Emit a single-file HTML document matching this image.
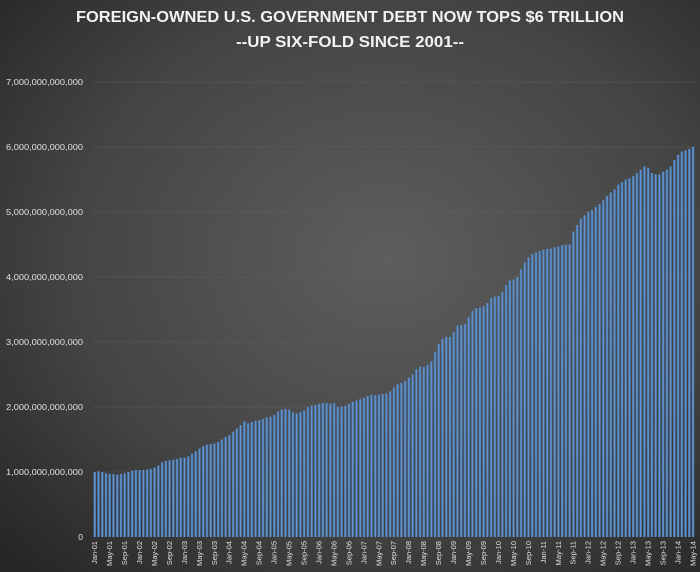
<!DOCTYPE html>
<html><head><meta charset="utf-8"><style>
html,body{margin:0;padding:0;}
body{width:700px;height:572px;overflow:hidden;background:#333;}
</style></head><body>
<svg id="chart" width="700" height="572" xmlns="http://www.w3.org/2000/svg" style="display:block">
<defs>
<radialGradient id="bg" cx="0.55" cy="0.45" r="0.75">
<stop offset="0" stop-color="#5e5e5e"/><stop offset="0.6" stop-color="#444"/><stop offset="1" stop-color="#262626"/>
</radialGradient>
<linearGradient id="barg" x1="0" x2="1" y1="0" y2="0">
<stop offset="0" stop-color="#3a679c"/><stop offset="0.5" stop-color="#6f9ed3"/><stop offset="1" stop-color="#365f92"/>
</linearGradient>
</defs>
<rect width="700" height="572" fill="url(#bg)"/>
<text x="76" y="22" textLength="548" lengthAdjust="spacingAndGlyphs" fill="#f2f2f2" font-family="Liberation Sans, sans-serif" font-weight="bold" font-size="16">FOREIGN-OWNED U.S. GOVERNMENT DEBT NOW TOPS $6 TRILLION</text>
<text x="236" y="47" textLength="228" lengthAdjust="spacingAndGlyphs" fill="#f2f2f2" font-family="Liberation Sans, sans-serif" font-weight="bold" font-size="16">--UP SIX-FOLD SINCE 2001--</text>
<g id="grid"></g><g id="bars"></g><g id="labels"></g>
</svg>
<script>
const yTicks=[0,1,2,3,4,5,6,7];
const yTickLabels=["0","1,000,000,000,000","2,000,000,000,000","3,000,000,000,000","4,000,000,000,000","5,000,000,000,000","6,000,000,000,000","7,000,000,000,000"];
const monthNames=["Jan","Feb","Mar","Apr","May","Jun","Jul","Aug","Sep","Oct","Nov","Dec"];
const startYear=2001;
const values=[
1.0,1.01,1.0,0.98,0.97,0.97,0.96,0.97,0.98,1.0,1.02,1.03,
1.03,1.03,1.04,1.05,1.07,1.1,1.15,1.17,1.18,1.19,1.2,1.22,
1.22,1.24,1.28,1.32,1.36,1.4,1.42,1.43,1.44,1.46,1.5,1.54,
1.57,1.62,1.67,1.72,1.78,1.75,1.77,1.79,1.8,1.82,1.84,1.85,
1.88,1.93,1.96,1.97,1.96,1.92,1.9,1.92,1.95,2.0,2.02,2.03,
2.05,2.06,2.06,2.05,2.06,2.0,2.01,2.02,2.05,2.08,2.1,2.12,
2.14,2.17,2.19,2.18,2.19,2.2,2.21,2.24,2.3,2.35,2.37,2.4,
2.45,2.5,2.58,2.62,2.62,2.65,2.7,2.85,2.97,3.05,3.08,3.08,
3.15,3.25,3.26,3.28,3.38,3.48,3.52,3.53,3.55,3.6,3.68,3.7,
3.71,3.77,3.88,3.95,3.96,4.0,4.12,4.22,4.3,4.35,4.38,4.4,
4.42,4.43,4.44,4.46,4.47,4.49,4.5,4.5,4.7,4.8,4.9,4.95,
5.0,5.03,5.08,5.12,5.18,5.25,5.3,5.35,5.42,5.46,5.5,5.52,
5.55,5.6,5.65,5.7,5.68,5.6,5.58,5.58,5.62,5.65,5.7,5.8,
5.88,5.93,5.95,5.97,6.0];
const NS="http://www.w3.org/2000/svg";
const x0=93,x1=695,yBase=537,yTop=82,vMax=7;
const slot=(x1-x0)/values.length;
function xs(i){return x0+i*slot;}
function ys(v){return yBase-(v/vMax)*(yBase-yTop);}
function mk(t,a){const e=document.createElementNS(NS,t);for(const k in a)e.setAttribute(k,a[k]);return e;}
const grid=document.getElementById('grid'),bars=document.getElementById('bars'),labels=document.getElementById('labels');
yTicks.forEach((t,i)=>{
  if(t>0){const l=mk('line',{x1:x0,x2:x1,y1:ys(t),y2:ys(t),stroke:'#6a6a6a','stroke-width':0.6,'stroke-opacity':0.6});
  
  
  grid.appendChild(l);}
  const attrs={x:83,y:ys(t)+3,'text-anchor':'end',fill:'#e0e0e0','font-family':'Liberation Sans, sans-serif','font-size':'8.5'};
  if(t>0){attrs.x=6;attrs['text-anchor']='start';attrs.textLength=77;attrs.lengthAdjust='spacingAndGlyphs';}
  const tx=mk('text',attrs);
  tx.textContent=yTickLabels[i];
  
  
  labels.appendChild(tx);
});
values.forEach((v,i)=>{
  const r=mk('rect',{x:xs(i)+0.5,y:ys(v),width:slot*0.7,height:yBase-ys(v),fill:'url(#barg)'});
  
  
  bars.appendChild(r);
  if(i%4===0){
    const m=i%12,yr=(startYear+Math.floor(i/12))%100;
    const cx=xs(i)+slot*0.35+2.8;
    const tx=mk('text',{x:cx,y:541,'text-anchor':'end',fill:'#e0e0e0','font-family':'Liberation Sans, sans-serif','font-size':'7.5',transform:`rotate(-90 ${cx} 541)`});
    tx.textContent=monthNames[m]+'-'+String(yr).padStart(2,'0');
    
    
    labels.appendChild(tx);
  }
});
</script>
</body></html>
